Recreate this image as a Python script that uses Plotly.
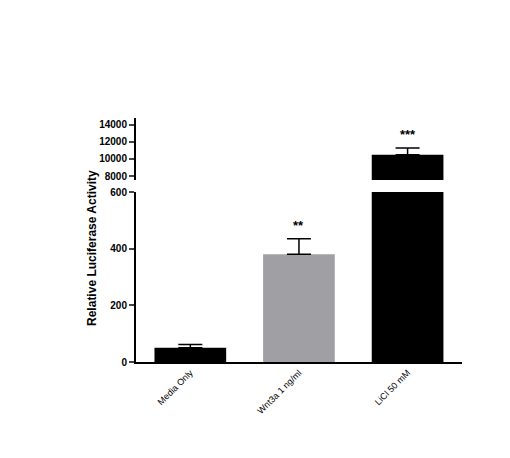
import plotly.graph_objects as go

categories = ['Media Only', 'Wnt3a 1 ng/ml', 'LiCl 50 mM']
values = [50, 380, 10500]
errors = [12, 55, 800]
colors = ['black', '#a0a0a4', 'black']
stars = ['', '**', '***']
low_ticks = [0, 200, 400, 600]
high_ticks = [8000, 10000, 12000, 14000]

H = 458.0
def fy(px):
    return (H - px) / H

fig = go.Figure()
for ya in ['y', 'y2']:
    fig.add_trace(go.Bar(
        x=categories, y=values, marker=dict(color=colors, line=dict(width=0)),
        width=0.66, yaxis=ya, showlegend=False,
        error_y=dict(type='data', symmetric=False, array=errors,
                     arrayminus=[0, 0, 0], color='black', thickness=1.5, width=12)
    ))

ann = []
for c, v, e, s in zip(categories, values, errors, stars):
    if not s:
        continue
    ann.append(dict(x=c, y=v + e, yref='y2' if v > 600 else 'y', text='<b>%s</b>' % s,
                    showarrow=False, yanchor='bottom', yshift=4,
                    font=dict(size=13, color='black')))
ann.append(dict(x=0.147, y=fy(240), xref='paper', yref='paper', textangle=-90,
                text='<b>Relative Luciferase Activity</b>', showarrow=False,
                font=dict(size=12, color='black')))

fig.update_layout(
    width=510, height=458, margin=dict(l=0, r=0, t=0, b=0),
    plot_bgcolor='white', paper_bgcolor='white',
    font=dict(family='Liberation Sans, Arial', size=10, color='black'),
    xaxis=dict(domain=[0.251, 0.89], showline=True, linecolor='black', linewidth=2,
               ticks='', tickangle=-45, automargin=False,
               tickvals=categories, ticktext=categories,
               tickfont=dict(size=9), anchor='y'),
    yaxis=dict(domain=[fy(354), fy(184)], range=[0, 600], tickvals=low_ticks,
               ticktext=['<b>%d</b>' % t for t in low_ticks], automargin=False,
               showline=True, linecolor='black', linewidth=2, ticks='outside',
               ticklen=5, tickwidth=2, showgrid=False, zeroline=False,
               tickfont=dict(size=10), anchor='x'),
    xaxis2=dict(domain=[0.251, 0.89], anchor='y2', overlaying='x', visible=False,
                matches='x'),
    yaxis2=dict(domain=[fy(172), fy(110)], range=[7530, 14820], automargin=False,
                tickvals=high_ticks, ticktext=['<b>%d</b>' % t for t in high_ticks],
                showline=True, linecolor='black',
                linewidth=2, ticks='outside', ticklen=5, tickwidth=2, showgrid=False,
                zeroline=False, anchor='x', tickfont=dict(size=10)),
    annotations=ann,
)
fig.write_html('out.html')
